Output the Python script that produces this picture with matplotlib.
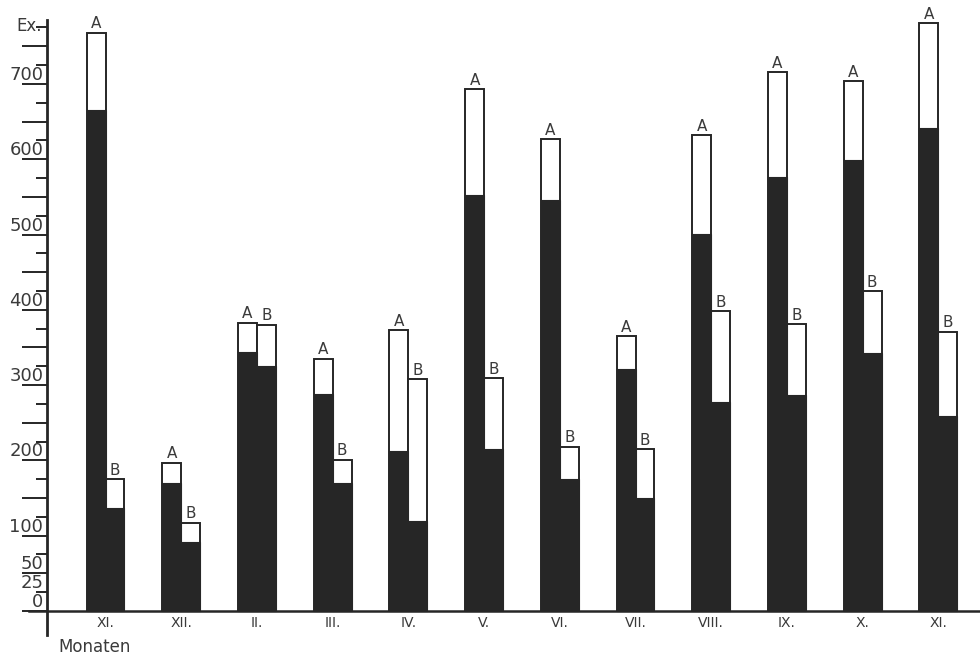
import numpy as np
import matplotlib
matplotlib.use('Agg')
import matplotlib.pyplot as plt
import matplotlib.transforms as mtransforms

# Monthly values, A and B series (total height and dark lower part)
months = ['XI.', 'XII.', 'II.', 'III.', 'IV.', 'V.', 'VI.', 'VII.', 'VIII.', 'IX.', 'X.', 'XI.']
a_total = [768, 197, 383, 335, 373, 693, 627, 365, 632, 716, 704, 781]
a_black = [666, 170, 344, 288, 212, 552, 546, 321, 501, 576, 599, 642]
b_total = [175, 117, 380, 201, 308, 309, 218, 215, 398, 381, 425, 371]
b_black = [137, 92, 325, 170, 120, 215, 175, 150, 278, 287, 342, 259]
y_labels = [0, 25, 50, 100, 200, 300, 400, 500, 600, 700]

ink = '#262626'
txt = '#3a3a3a'

fig = plt.figure(figsize=(9.8, 6.59), dpi=100)
ax = fig.add_axes([0.048, 0.0364, 0.952, 0.9333])

x = np.arange(len(months))
w = 0.25

# white (upper) part with outline, then dark part on top
ax.bar(x - w / 2, a_total, width=w, color='white', edgecolor=ink, linewidth=1.4, zorder=2)
ax.bar(x + w / 2, b_total, width=w, color='white', edgecolor=ink, linewidth=1.4, zorder=2)
ax.bar(x - w / 2, a_black, width=w, color=ink, edgecolor=ink, linewidth=0.8, zorder=3)
ax.bar(x + w / 2, b_black, width=w, color=ink, edgecolor=ink, linewidth=0.8, zorder=3)

for xi, ta, tb in zip(x, a_total, b_total):
    ax.annotate('A', (xi - w / 2, ta), xytext=(0, 1), textcoords='offset points',
                ha='center', va='bottom', fontsize=11, color=txt)
    ax.annotate('B', (xi + w / 2, tb), xytext=(0, 1), textcoords='offset points',
                ha='center', va='bottom', fontsize=11, color=txt)

ax.set_xlim(-0.773, 11.55)
ax.set_ylim(-32, 785)

# axes styling
for s in ['top', 'right', 'bottom']:
    ax.spines[s].set_visible(False)
ax.spines['left'].set_linewidth(2)
ax.spines['left'].set_color(ink)
ax.axhline(0, xmin=-0.019, xmax=1, color=ink, linewidth=1.8, clip_on=False, zorder=4)

ax.set_yticks(np.arange(0, 751, 50))
ax.set_yticks(np.arange(25, 776, 50), minor=True)
ax.tick_params(axis='y', which='major', length=18, width=1.4, color=ink, labelleft=False)
ax.tick_params(axis='y', which='minor', length=8, width=1.4, color=ink)

lab_tr = mtransforms.blended_transform_factory(ax.transAxes, ax.transData)
for v in y_labels:
    ax.annotate(str(v), (-0.004, v), xycoords=lab_tr, xytext=(0, 0), textcoords='offset points',
                ha='right', va='bottom', fontsize=13, color=txt)
ax.text(-0.006, 765, 'Ex.', transform=lab_tr, ha='right', va='bottom', fontsize=12, color=txt)

# month labels just under the zero line
ax.set_xticks(x)
ax.set_xticklabels([])
ax.tick_params(axis='x', length=0)
for xi, m in zip(x, months):
    ax.annotate(m, (xi, 0), xytext=(0, -4), textcoords='offset points',
                ha='center', va='top', fontsize=10, color=txt)

fig.text(58 / 980, 1 - 647 / 659, 'Monaten', ha='left', va='center', fontsize=12, color=txt)

plt.savefig('out.png', dpi=100)
